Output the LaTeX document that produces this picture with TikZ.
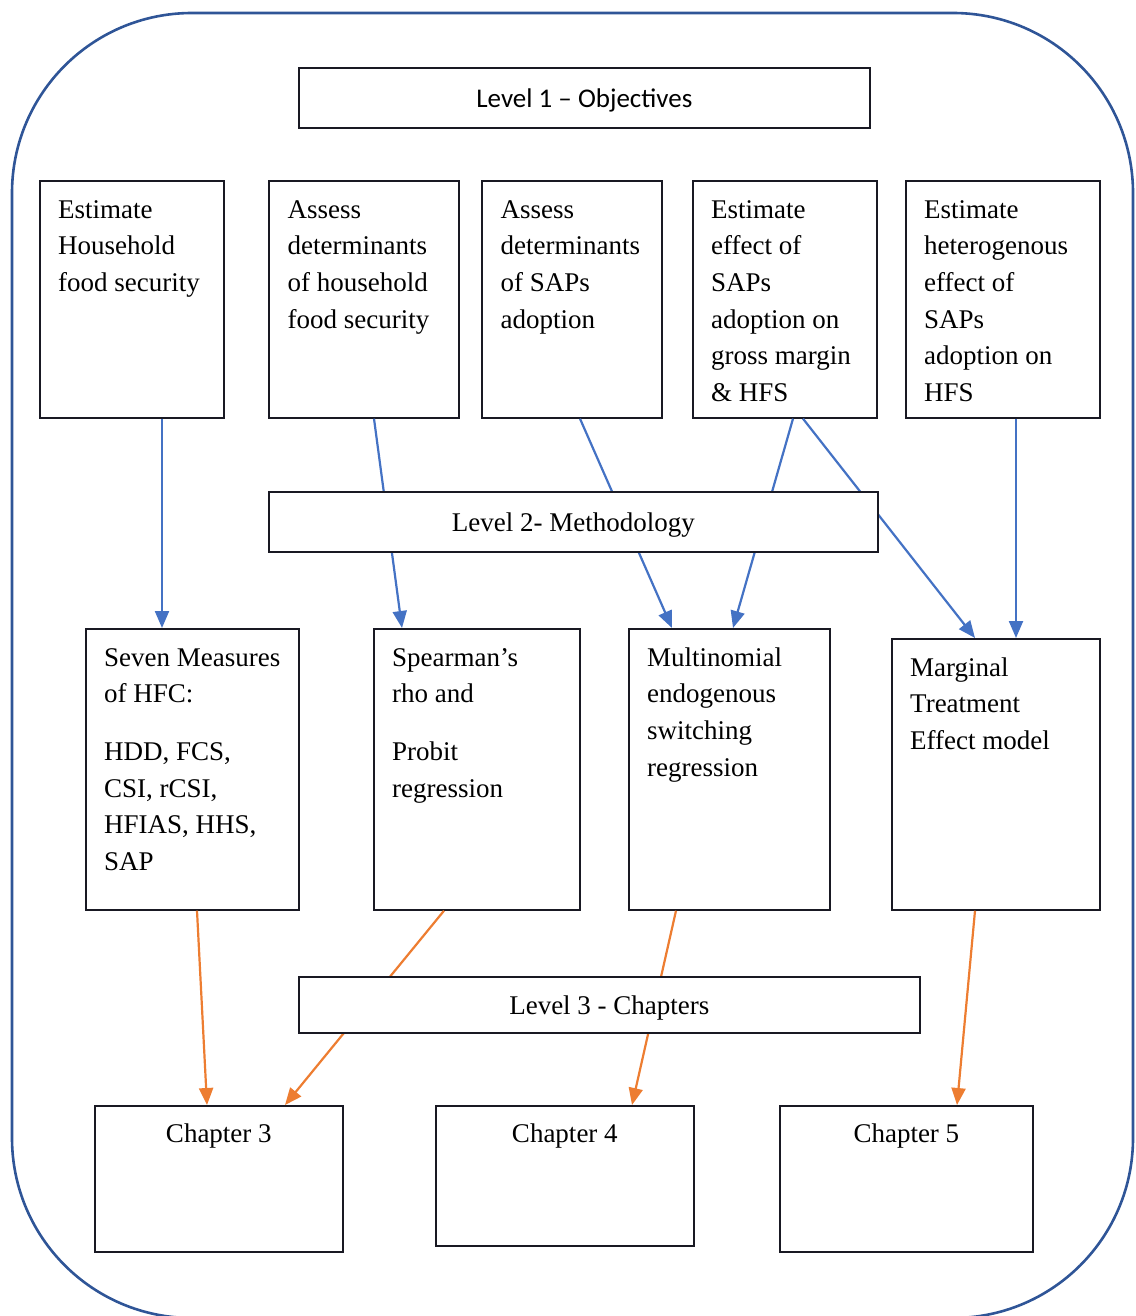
\documentclass[tikz,border=0pt]{standalone}
\usepackage{fontspec}
\setmainfont{Liberation Serif}
\newfontfamily\calfont{Carlito}
\usetikzlibrary{arrows.meta,calc}
\definecolor{outerblue}{RGB}{47,85,151}
\definecolor{conblue}{RGB}{68,114,196}
\definecolor{conorange}{RGB}{237,125,49}
\definecolor{boxline}{RGB}{25,25,35}
\begin{document}
\begin{tikzpicture}[x=1pt,y=-1pt,
  box/.style={draw=boxline, line width=1.7pt, fill=white, rectangle, inner sep=0pt, anchor=north west},
  txt/.style={anchor=north west, inner sep=0pt, align=left, font=\fontsize{27}{36.6}\selectfont},
  ctxt/.style={anchor=base, inner sep=0pt, font=\fontsize{27}{36.6}\selectfont},
  blueline/.style={draw=conblue, line width=2.2pt, -{Triangle[length=17pt,width=14pt,fill=conblue]}},
  orangeline/.style={draw=conorange, line width=2.2pt, -{Triangle[length=17pt,width=14pt,fill=conorange]}}
]
\useasboundingbox (0,0) rectangle (1135,1316);
\begin{scope}
  \clip (0,0) rectangle (1135,1316);
  \draw[outerblue, line width=2.6pt, rounded corners=180pt] (12,13) rectangle (1133,1318);
\end{scope}

% Level 1
\node[box, minimum width=571pt, minimum height=60pt, text depth=0pt, font=\calfont\fontsize{27}{30}\selectfont] (L1) at (298,67) {Level 1 – Objectives};

% Objective boxes
\node[box, minimum width=184pt, minimum height=237pt] (A) at (39,180) {};
\node[box, minimum width=190pt, minimum height=237pt] (B) at (268,180) {};
\node[box, minimum width=180pt, minimum height=237pt] (C) at (481,180) {};
\node[box, minimum width=184pt, minimum height=237pt] (D) at (692,180) {};
\node[box, minimum width=194pt, minimum height=237pt] (E) at (905,180) {};
\node[txt] (At) at ($(A.north west)+(19,12.4)$) {\strut Estimate\\Household\\food security};
\node[txt] (Bt) at ($(B.north west)+(19.5,12.4)$) {\strut Assess\\determinants\\of household\\food security};
\node[txt] (Ct) at ($(C.north west)+(19.5,12.4)$) {\strut Assess\\determinants\\of SAPs\\adoption};
\node[txt] (Dt) at ($(D.north west)+(19,12.4)$) {\strut Estimate\\effect of\\SAPs\\adoption on\\gross margin\\\& HFS};
\node[txt] (Et) at ($(E.north west)+(19,12.4)$) {\strut Estimate\\heterogenous\\effect of\\SAPs\\adoption on\\HFS};

% Method boxes
\node[box, minimum width=213pt, minimum height=281pt] (F) at (85,628) {};
\node[box, minimum width=206pt, minimum height=281pt] (G) at (373,628) {};
\node[box, minimum width=201pt, minimum height=281pt] (H) at (628,628) {};
\node[box, minimum width=208pt, minimum height=271pt] (I) at (891,638) {};
\node[txt] (Ft) at ($(F.north west)+(19,12.4)$) {\strut Seven Measures\\of HFC:\\[21pt]HDD, FCS,\\CSI, rCSI,\\HFIAS, HHS,\\SAP};
\node[txt] (Gt) at ($(G.north west)+(19,12.4)$) {\strut Spearman’s\\rho and\\[21pt]Probit\\regression};
\node[txt] (Ht) at ($(H.north west)+(19,12.4)$) {\strut Multinomial\\endogenous\\switching\\regression};
\node[txt] (It) at ($(I.north west)+(19,12.4)$) {\strut Marginal\\Treatment\\Effect model};

% Chapter boxes
\node[box, minimum width=248pt, minimum height=146pt] (J) at (94,1105) {};
\node[box, minimum width=258pt, minimum height=140pt] (K) at (435,1105) {};
\node[box, minimum width=253pt, minimum height=146pt] (M) at (779,1105) {};
\node[ctxt] (Jt) at ($(J.north)+(0,37)$) {Chapter 3};
\node[ctxt] (Kt) at ($(K.north)+(0,37)$) {Chapter 4};
\node[ctxt] (Mt) at ($(M.north)+(0,37)$) {Chapter 5};

% Blue connectors
\draw[blueline] ($(A.south west)+(123,0)$) -- ($(F.north west)+(77,0)$);
\draw[blueline] ($(B.south west)+(106,0)$) -- ($(G.north west)+(29,0)$);
\draw[blueline] ($(C.south west)+(99,0)$) -- ($(H.north west)+(44,0)$);
\draw[blueline] ($(D.south west)+(101,0)$) -- ($(H.north west)+(105,0)$);
\draw[blueline] ($(D.south west)+(111,0)$) -- ($(I.north west)+(84,0)$);
\draw[blueline] ($(E.south west)+(111,0)$) -- ($(I.north west)+(125,0)$);

% Orange connectors
\draw[orangeline] ($(F.south west)+(112,0)$) -- ($(J.north west)+(113,0)$);
\draw[orangeline] ($(G.south west)+(71,0)$) -- ($(J.north west)+(191,0)$);
\draw[orangeline] ($(H.south west)+(48,0)$) -- ($(K.north west)+(197,0)$);
\draw[orangeline] ($(I.south west)+(84,0)$) -- ($(M.north west)+(178,0)$);

% Level 2 and 3 (drawn over the connectors)
\node[box, minimum width=609pt, minimum height=60pt, text depth=0pt, font=\fontsize{27}{32}\selectfont] (L2) at (268,491) {Level 2- Methodology};
\node[box, minimum width=621pt, minimum height=56pt, text depth=0pt, font=\fontsize{27}{32}\selectfont] (L3) at (298,976) {Level 3 - Chapters};
\end{tikzpicture}
\end{document}
